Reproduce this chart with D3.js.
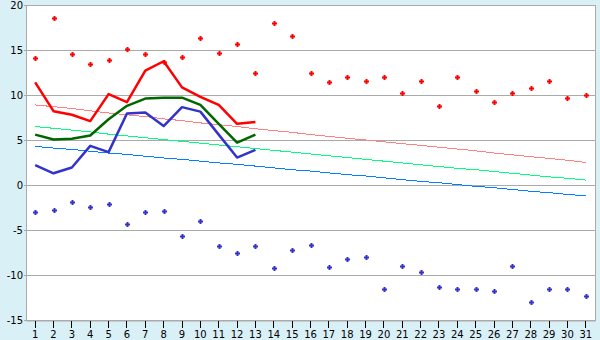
<!DOCTYPE html>
<html>
<head>
<meta charset="utf-8">
<script src="https://cdn.jsdelivr.net/npm/d3@7"></script>
<style>
  body { margin: 0; background: #daf0f7; }
  svg { display: block; font-family: "DejaVu Sans", Verdana, sans-serif; }
</style>
</head>
<body>
<script>
// dias del mes
var days = d3.range(1, 32);
var yTicks = [-15, -10, -5, 0, 5, 10, 15, 20];

// records (puntos)
var recordMax = [14.1, 18.6, 14.6, 13.5, 13.85, 15.1, 14.6, 13.7, 14.2, 16.3,
                 14.7, 15.7, 12.5, 18.0, 16.5, 12.5, 11.5, 12.0, 11.6, 12.0,
                 10.2, 11.6, 8.75, 12.05, 10.4, 9.2, 10.2, 10.75, 11.6, 9.65, 10.0];
var recordMin = [-3.0, -2.8, -1.9, -2.5, -2.15, -4.35, -3.0, -2.9, -5.7, -4.0,
                 -6.8, -7.6, -6.8, -9.25, -7.25, -6.7, -9.15, -8.25, -8.05, -11.5,
                 -8.95, -9.7, -11.35, -11.6, -11.5, -11.8, -8.95, -12.95, -11.6, -11.6, -12.35];

// valores reales (dias 1-13)
var actualMax = [11.4, 8.2, 7.8, 7.1, 10.1, 9.2, 12.7, 13.75, 10.85, 9.8, 8.9, 6.8, 7.0];
var actualAvg = [5.6, 5.05, 5.15, 5.5, 7.3, 8.8, 9.6, 9.7, 9.7, 8.9, 6.8, 4.7, 5.6];
var actualMin = [2.2, 1.3, 1.95, 4.35, 3.65, 7.95, 8.05, 6.55, 8.65, 8.15, 5.6, 3.05, 3.9];

// normales
var normalMax = [8.9, 8.7, 8.5, 8.25, 8.0, 7.8, 7.6, 7.35, 7.15, 6.9, 6.7, 6.5, 6.25, 6.05, 5.85, 5.6,
                 5.4, 5.2, 5.0, 4.8, 4.6, 4.4, 4.2, 4.0, 3.8, 3.55, 3.35, 3.15, 2.95, 2.75, 2.5];
var normalAvg = [6.5, 6.3, 6.1, 5.9, 5.65, 5.45, 5.25, 5.05, 4.85, 4.65, 4.45, 4.25, 4.05, 3.85, 3.65, 3.45,
                 3.25, 3.05, 2.85, 2.65, 2.45, 2.25, 2.05, 1.85, 1.7, 1.5, 1.3, 1.1, 0.9, 0.75, 0.55];
var normalMin = [4.3, 4.1, 3.95, 3.75, 3.55, 3.4, 3.2, 3.0, 2.85, 2.65, 2.45, 2.3, 2.1, 1.9, 1.7, 1.55,
                 1.35, 1.15, 1.0, 0.8, 0.6, 0.4, 0.25, 0.05, -0.15, -0.3, -0.5, -0.7, -0.85, -1.05, -1.2];

var W = 600, H = 340;
var pLeft = 26, pRight = 595, pTop = 5, pBottom = 320;

var svg = d3.select("body").append("svg")
    .attr("width", W)
    .attr("height", H);

svg.append("rect")
    .attr("width", W).attr("height", H)
    .attr("fill", "#daf0f7");

var x = d3.scaleBand()
    .domain(days)
    .range([pLeft, pRight]);

var y = d3.scaleLinear()
    .domain([-15, 20])
    .range([pBottom, pTop]);

var cx = d => x(d) + x.bandwidth() / 2;

// area del grafico
svg.append("rect")
    .attr("x", pLeft).attr("y", pTop)
    .attr("width", pRight - pLeft).attr("height", pBottom - pTop)
    .attr("fill", "#ffffff");

// rejilla
svg.append("g")
    .selectAll("line")
    .data(yTicks)
    .enter().append("line")
    .attr("x1", pLeft - 2).attr("x2", pRight)
    .attr("y1", d => Math.round(y(d)) + 0.5)
    .attr("y2", d => Math.round(y(d)) + 0.5)
    .attr("stroke", "#aaaaaa")
    .attr("shape-rendering", "crispEdges");

svg.append("line")
    .attr("x1", pLeft + 0.5).attr("x2", pLeft + 0.5)
    .attr("y1", pTop).attr("y2", pBottom)
    .attr("stroke", "#aaaaaa");
svg.append("line")
    .attr("x1", pRight + 0.5).attr("x2", pRight + 0.5)
    .attr("y1", pTop).attr("y2", pBottom + 1)
    .attr("stroke", "#aaaaaa");

// etiquetas eje y
svg.append("g")
    .selectAll("text")
    .data(yTicks)
    .enter().append("text")
    .attr("x", 23)
    .attr("y", d => y(d) + 3.5)
    .attr("text-anchor", "end")
    .attr("font-size", "10px")
    .attr("fill", "#000")
    .text(d => d);

// eje x
var xAxis = d3.axisBottom(x).tickSize(7).tickSizeOuter(0);
var gx = svg.append("g")
    .attr("transform", `translate(0, ${pBottom + 0.5})`)
    .call(xAxis);
gx.select(".domain").attr("stroke", "#aaaaaa");
gx.selectAll(".tick line").attr("stroke", "#000").attr("shape-rendering", "crispEdges");
gx.selectAll(".tick text")
    .attr("y", 10)
    .attr("font-size", "10px")
    .attr("font-family", "DejaVu Sans, Verdana, sans-serif")
    .attr("fill", "#000");

// lineas
function drawLine(values, color, width, crisp) {
    var line = d3.line()
        .x((d, i) => cx(days[i]))
        .y(d => y(d));
    svg.append("path")
        .datum(values)
        .attr("d", line)
        .attr("fill", "none")
        .attr("stroke", color)
        .attr("stroke-width", width)
        .attr("stroke-linejoin", "round")
        .attr("shape-rendering", crisp ? "crispEdges" : "auto");
}

drawLine(normalMax, "#ff8080", 1, true);
drawLine(normalAvg, "#00ff80", 1, true);
drawLine(normalMin, "#0080ff", 1, true);
drawLine(actualMax, "#ff0000", 2.5);
drawLine(actualAvg, "#006600", 2.5);
drawLine(actualMin, "#3333cc", 2.5);

// marcadores
var marker = "M-1,-2.5H1V-1H2.5V1H1V2.5H-1V1H-2.5V-1H-1Z";
function drawPoints(values, color) {
    svg.append("g")
        .selectAll("path")
        .data(values)
        .enter().append("path")
        .attr("d", marker)
        .attr("transform", (d, i) => `translate(${Math.round(cx(days[i])) + 0.5}, ${Math.round(y(d)) + 0.5})`)
        .attr("fill", color);
}

drawPoints(recordMax, "#ff0000");
drawPoints(recordMin, "#3333cc");
</script>
</body>
</html>
